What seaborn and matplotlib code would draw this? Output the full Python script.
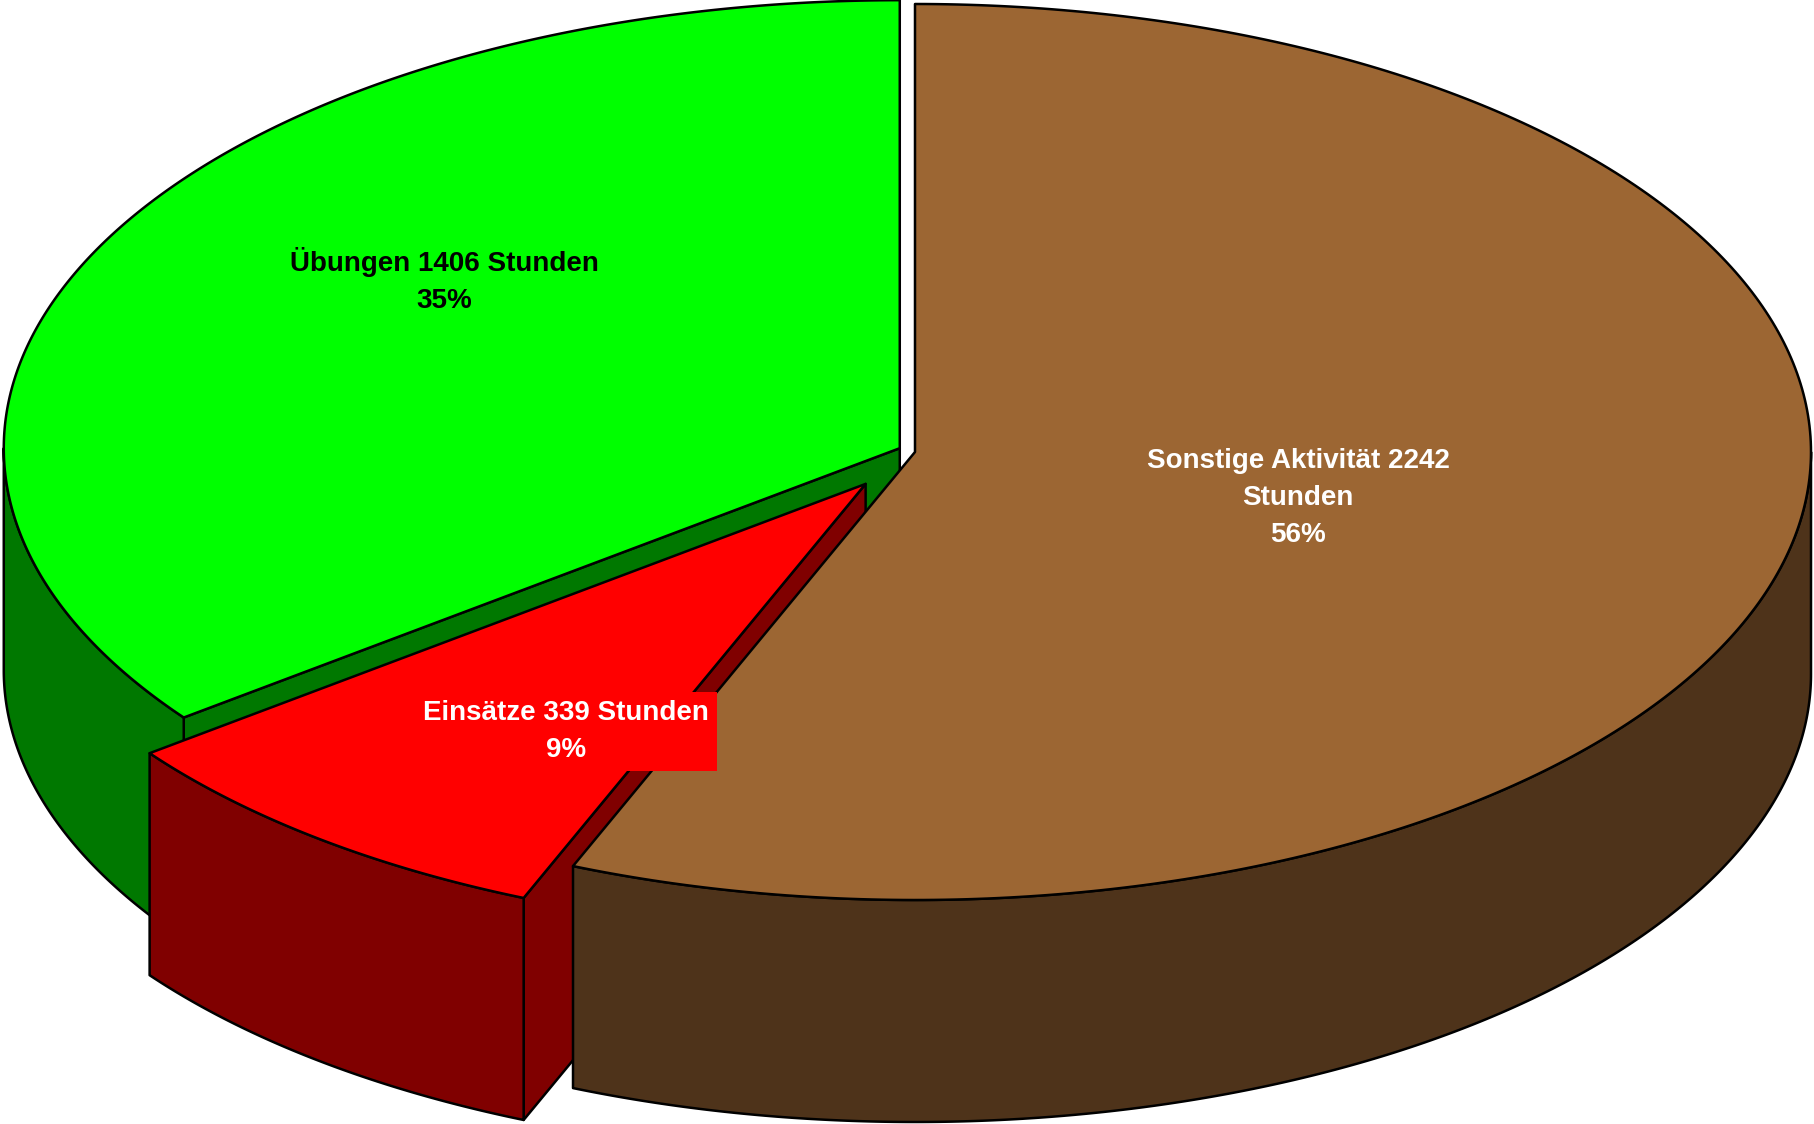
import numpy as np
import matplotlib
matplotlib.use("Agg")
import matplotlib.pyplot as plt
from matplotlib.patches import Polygon
import seaborn as sns

# ---------------- data ----------------
categories = ["Sonstige Aktivität", "Einsätze", "Übungen"]
hours = [2242, 339, 1406]
unit = "Stunden"

# ---------------- style / layout ----------------
top_colors = ["#9C6633", "#FF0000", "#00FF00"]
side_colors = ["#4E331A", "#800000", "#007800"]
text_colors = ["white", "white", "black"]
explode = [0.0, 0.09, 0.019]
wrap_unit = [True, False, False]
label_pos = [(1298, 542), (566, 757), (444, 308)]   # last-line baselines (px)
label_box = [None, "#FF0000", None]
draw_order = [2, 1, 0]

W, H = 1815, 1124
CX, CY = 915, 452          # pie centre (px)
RX, RY = 896, 448          # ellipse radii (px)
DEPTH = 222                # pie thickness (px)

sns.set_theme(style="white")
plt.rcParams["font.family"] = ["Liberation Sans", "DejaVu Sans"]

fig = plt.figure(figsize=(W / 100, H / 100), dpi=100)
fig.patch.set_facecolor("white")
ax = fig.add_axes([0, 0, 1, 1])
ax.set_xlim(0, W)
ax.set_ylim(H, 0)
ax.axis("off")

total = float(sum(hours))
fracs = np.array(hours) / total
ends = 90 - 360 * np.cumsum(fracs)
starts = np.concatenate([[90.0], ends[:-1]])

pal_top = sns.color_palette(top_colors)
pal_side = sns.color_palette(side_colors)


def pt(cx, cy, th, z=0.0):
    t = np.radians(th)
    return (cx + RX * np.cos(t), cy - RY * np.sin(t) + z)


def arc(cx, cy, a, b, z=0.0, n=300):
    t = np.radians(np.linspace(a, b, n))
    return np.column_stack([cx + RX * np.cos(t), cy - RY * np.sin(t) + z])


edge_kw = dict(edgecolor="black", linewidth=1.8, joinstyle="round")

for i in draw_order:
    s, e = starts[i], ends[i]
    mid = np.radians((s + e) / 2)
    cx = CX + explode[i] * RX * np.cos(mid)
    cy = CY - explode[i] * RY * np.sin(mid)

    # radial cut faces facing the viewer
    for ang, nrm in ((s, s + 90), (e, e - 90)):
        if np.sin(np.radians(nrm)) < -1e-6:
            p1 = pt(cx, cy, ang)
            p2 = pt(cx, cy, ang, DEPTH)
            face = [(cx, cy), p1, p2, (cx, cy + DEPTH)]
            ax.add_patch(Polygon(face, closed=True, facecolor=pal_side[i], **edge_kw))

    # outer curved side (front half only)
    for k in range(-2, 2):
        lo = max(e, -180 + 360 * k)
        hi = min(s, 360 * k)
        if hi - lo > 1e-6:
            top = arc(cx, cy, hi, lo)
            bot = arc(cx, cy, lo, hi, DEPTH)
            ax.add_patch(Polygon(np.vstack([top, bot]), closed=True,
                                 facecolor=pal_side[i], **edge_kw))

    # top face
    top = np.vstack([[cx, cy], arc(cx, cy, s, e)])
    ax.add_patch(Polygon(top, closed=True, facecolor=pal_top[i], **edge_kw))

# labels
for i in range(len(hours)):
    pct = int(round(100 * hours[i] / total))
    sep = "\n" if wrap_unit[i] else " "
    txt = f"{categories[i]} {hours[i]}{sep}{unit}\n{pct}%"
    bbox = None
    if label_box[i] is not None:
        bbox = dict(boxstyle="square,pad=0.3", facecolor=label_box[i], edgecolor="none")
    ax.text(label_pos[i][0], label_pos[i][1], txt, ha="center", va="baseline",
            fontsize=20, fontweight="bold", color=text_colors[i],
            linespacing=1.55, bbox=bbox, zorder=10)

fig.savefig("out.png", dpi=100, facecolor="white")
